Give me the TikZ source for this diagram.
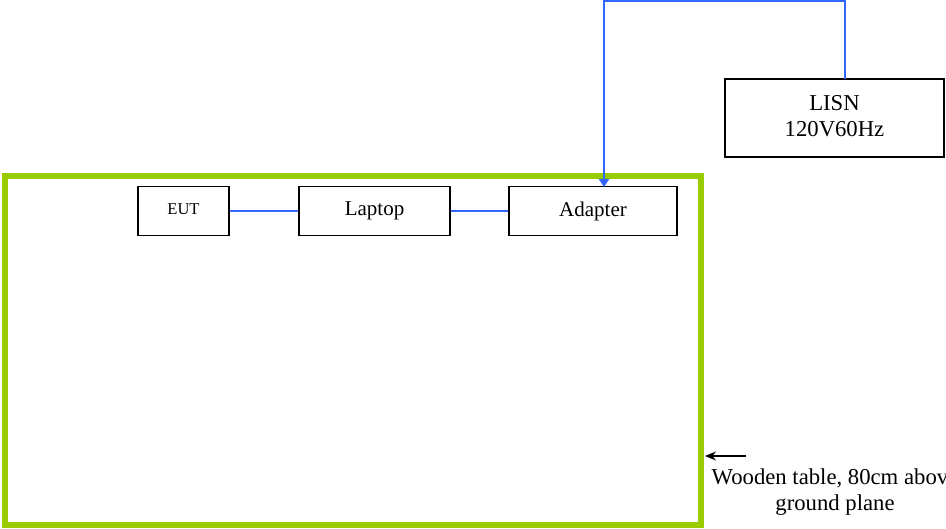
\documentclass[tikz,border=0pt]{standalone}
\usepackage{fontspec}
\setmainfont{Liberation Serif}
\usetikzlibrary{arrows.meta,calc}
\definecolor{tablegreen}{HTML}{99CC00}
\definecolor{cableblue}{HTML}{3366FF}
\begin{document}
\begin{tikzpicture}[x=1pt,y=-1pt,
  box/.style={draw=black,line width=1.5pt,inner sep=0pt,fill=white},
  cable/.style={draw=cableblue,line width=1.8pt},
  bigtext/.style={font=\fontsize{21}{26}\selectfont},
  largetext/.style={font=\fontsize{22.7}{26.5}\selectfont},
  smalltext/.style={font=\fontsize{16.5}{19}\selectfont}]
\useasboundingbox (0,0) rectangle (946,529);
% table
\node[draw=tablegreen,line width=6.5pt,minimum width=696pt,minimum height=349pt,inner sep=0pt] (table) at (353,350.5) {};
% boxes
\node[box,smalltext,minimum width=91pt,minimum height=49pt] (eut) at (183.5,211) {\raisebox{3pt}{EUT}};
\node[box,bigtext,minimum width=151pt,minimum height=49pt] (laptop) at (374.5,211) {Laptop};
\node[box,bigtext,minimum width=168pt,minimum height=49pt] (adapter) at (593,211) {Adapter};
\node[box,largetext,minimum width=219pt,minimum height=78pt,align=center] (lisn) at (834.5,118) {\raisebox{2pt}{\begin{tabular}{@{}c@{}}LISN\\[-1pt]120V60Hz\end{tabular}}};
% cables
\draw[cable] (eut.east) -- (laptop.west);
\draw[cable] (laptop.east) -- (adapter.west);
\coordinate (lisntop) at (845,79);
\coordinate (adtop) at (604,187);
\draw[cable,-{Triangle[length=8pt,width=10pt]}] (lisntop) -- (845,1) -- (604,1) -- (adtop);
% label
\coordinate (arrowstart) at (746,456);
\draw[black,line width=1.3pt,-{Stealth[length=11pt,width=9pt]}] (arrowstart) -- (705,456);
\node[largetext,align=center,anchor=north] (label) at (835,465) {Wooden table, 80cm above\\ground plane};
\end{tikzpicture}
\end{document}
